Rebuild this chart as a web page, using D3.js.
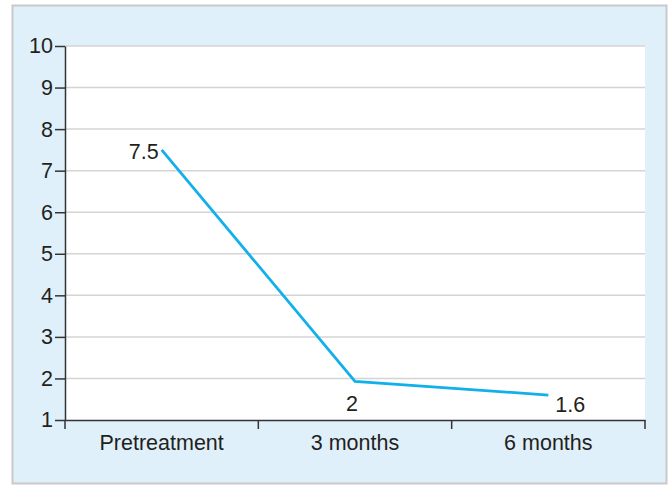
<!DOCTYPE html>
<html><head><meta charset="utf-8">
<script src="https://cdn.jsdelivr.net/npm/d3@7"></script>
<style>body{margin:0;background:#fff}svg{display:block}</style>
</head><body>
<svg id="c" width="668" height="486"></svg>
<script>
const categories = ["Pretreatment", "3 months", "6 months"];
const values = [7.5, 1.93, 1.6];
const valueLabels = ["7.5", "2", "1.6"];
const yTicks = [1,2,3,4,5,6,7,8,9,10];

const svg = d3.select("#c");
const font = "'Liberation Sans', Arial, sans-serif";
const fs = 21.5;
svg.append("rect").attr("x",12.5).attr("y",5.5).attr("width",654).attr("height",478)
  .attr("fill","#dff0fa").attr("stroke","#c9c9c9").attr("stroke-width",2);

const L=65, R=645, T=46, B=420;
svg.append("rect").attr("x",L).attr("y",T).attr("width",R-L).attr("height",B-T).attr("fill","#fff");

const x = d3.scaleBand().domain(categories).range([L,R]);
const y = d3.scaleLinear().domain([1,10]).range([B,T]);

// grid
svg.append("g").selectAll("line").data(yTicks.filter(d=>d>1)).join("line")
  .attr("x1",L).attr("x2",R).attr("y1",d=>y(d)).attr("y2",d=>y(d))
  .attr("stroke","#d4d4d4").attr("stroke-width",1.5);

// y axis
const ya = svg.append("g").attr("transform",`translate(${L},0)`)
  .call(d3.axisLeft(y).tickValues(yTicks).tickSize(10).tickPadding(2).tickSizeOuter(0));
ya.attr("font-size",fs).attr("font-family",font);
ya.select(".domain").attr("stroke","#333").attr("stroke-width",1.5);
ya.selectAll(".tick line").attr("stroke","#333").attr("stroke-width",1.5);
ya.selectAll("text").attr("font-family",font).attr("font-size",fs).attr("fill","#231f20");

// x axis
const xa = svg.append("g").attr("transform",`translate(0,${B})`)
  .call(d3.axisBottom(x).tickSize(0).tickPadding(15));
xa.attr("font-size",fs).attr("font-family",font);
xa.select(".domain").attr("stroke","#333").attr("stroke-width",1.5);
xa.selectAll("text").attr("font-family",font).attr("font-size",fs).attr("fill","#231f20");
const bounds = [L, ...categories.map(c=>x(c)+x.bandwidth())];
svg.append("g").selectAll("line").data(bounds).join("line")
  .attr("x1",d=>d).attr("x2",d=>d).attr("y1",B).attr("y2",B+9)
  .attr("stroke","#333").attr("stroke-width",1.5);

// line
const cx = c => x(c)+x.bandwidth()/2;
const line = d3.line().x((d,i)=>cx(categories[i])).y(d=>y(d));
svg.append("path").datum(values).attr("d",line).attr("fill","none")
  .attr("stroke","#11b0ea").attr("stroke-width",2.8);

// labels
const offs = [{dx:-3,dy:9,a:"end"},{dx:-3,dy:30,a:"middle"},{dx:7,dy:17,a:"start"}];
svg.append("g").selectAll("text").data(values).join("text")
  .attr("x",(d,i)=>cx(categories[i])+offs[i].dx)
  .attr("y",(d,i)=>y(d)+offs[i].dy)
  .attr("text-anchor",(d,i)=>offs[i].a)
  .attr("font-family",font).attr("font-size",fs).attr("fill","#231f20")
  .text((d,i)=>valueLabels[i]);
</script>
</body></html>
